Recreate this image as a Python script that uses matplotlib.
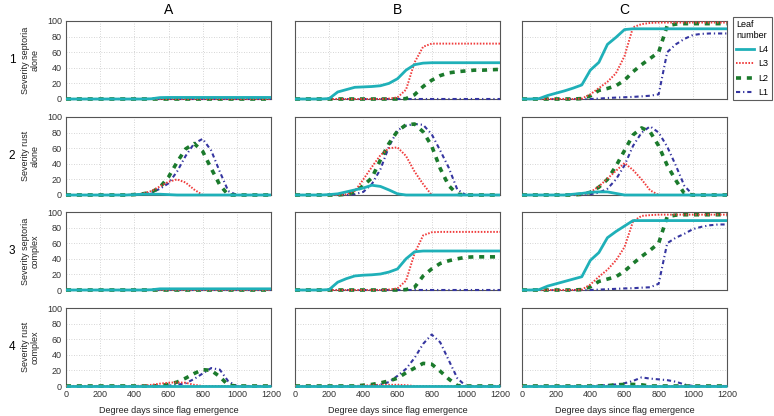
import numpy as np
import matplotlib
matplotlib.use("Agg")
import matplotlib.pyplot as plt
from matplotlib.lines import Line2D

# degree days since flag emergence (common grid, every 50)
dd = list(range(0, 1250, 50))

# ---- row 1: severity septoria alone ----
sep_alone_A_L4 = [0, 0, 0, 0, 0, 0, 0, 0, 0, 0, 0.3, 1.8, 2, 2, 2, 2, 2, 2, 2, 2, 2, 2, 2, 2, 2]
sep_alone_A_L3 = [0] * 25
sep_alone_A_L2 = [0] * 25
sep_alone_A_L1 = [0] * 25

sep_alone_B_L4 = [0, 0, 0, 0, 0.5, 9, 12, 15, 15.5, 16, 17, 20, 26, 37, 44, 46, 46.5, 46.5, 46.5, 46.5, 46.5, 46.5, 46.5, 46.5, 46.5]
sep_alone_B_L3 = [0, 0, 0, 0, 0, 0, 0, 0, 0, 0, 0, 0.5, 2, 12, 47, 67, 71, 71, 71, 71, 71, 71, 71, 71, 71]
sep_alone_B_L2 = [0, 0, 0, 0, 0, 0, 0, 0, 0, 0, 0, 0, 0, 0.5, 5.5, 16, 24, 30, 33.5, 35, 36, 37, 37, 37.5, 38]
sep_alone_B_L1 = [0.5] * 25

sep_alone_C_L4 = [0, 0, 0.5, 4.5, 7.5, 10.5, 14, 18, 37, 47, 70, 79, 89, 90, 90, 90, 90, 90, 90, 90, 90, 90, 90, 90, 90]
sep_alone_C_L3 = [0, 0, 0, 0, 0, 0, 0, 0.5, 6, 14, 22, 33, 55, 92, 96, 97.5, 98, 98, 98, 98, 98, 98, 98, 98, 98]
sep_alone_C_L2 = [0, 0, 0, 0, 0, 0, 0, 0.5, 4, 11, 13.5, 17, 24, 35, 44, 52, 60, 94, 96, 96.6, 96.6, 96.6, 96.6, 96.6, 96.6]
sep_alone_C_L1 = [0, 0, 0, 0, 0, 0, 0, 0, 0, 0.5, 1.3, 1.8, 2.2, 2.7, 3.4, 4.2, 6, 60, 70, 77, 82, 83.5, 84, 84, 84]

# ---- row 2: severity rust alone ----
rust_alone_A_L4 = [0, 0, 0, 0, 0, 0, 0, 0, 0.5, 1, 1, 1, 0.5, 0, 0, 0, 0, 0, 0, 0, 0, 0, 0, 0, 0]
rust_alone_A_L3 = [0, 0, 0, 0, 0, 0, 0, 0, 0.5, 2, 5, 11, 17, 20, 16, 7, 0, 0, 0, 0, 0, 0, 0, 0, 0]
rust_alone_A_L2 = [0, 0, 0, 0, 0, 0, 0, 0, 0.5, 1.5, 3.5, 10, 23, 42, 59, 66, 56, 34, 13, 0, 0, 0, 0, 0, 0]
rust_alone_A_L1 = [0, 0, 0, 0, 0, 0, 0, 0, 0, 1, 3, 8, 15, 30, 50, 66, 72, 57, 30, 5, 0, 0, 0, 0, 0]

rust_alone_B_L4 = [0, 0, 0, 0, 0.5, 1.5, 4, 6.5, 9, 12.5, 11, 6.5, 1.5, 0, 0, 0, 0, 0, 0, 0, 0, 0, 0, 0, 0]
rust_alone_B_L3 = [0, 0, 0, 0, 0, 0, 1, 5, 20, 36, 51, 60, 61, 50, 30, 14, 0, 0, 0, 0, 0, 0, 0, 0, 0]
rust_alone_B_L2 = [0, 0, 0, 0, 0, 0, 1, 4, 12, 22, 45, 66, 82, 90, 91, 81, 63, 34, 12, 1, 0, 0, 0, 0, 0]
rust_alone_B_L1 = [0, 0, 0, 0, 0, 0, 0, 1, 4, 14, 33, 62, 83, 89, 91, 90, 78, 57, 35, 7, 0, 0, 0, 0, 0]

rust_alone_C_L4 = [0, 0, 0, 0, 0, 0, 1, 2, 3.5, 4, 4, 2, 0, 0, 0, 0, 0, 0, 0, 0, 0, 0, 0, 0, 0]
rust_alone_C_L3 = [0, 0, 0, 0, 0, 0, 0, 1, 3.5, 11, 21, 31, 41, 32, 20, 6, 0, 0, 0, 0, 0, 0, 0, 0, 0]
rust_alone_C_L2 = [0, 0, 0, 0, 0, 0, 0, 1, 3.5, 10, 20, 37, 57, 77, 86, 81, 63, 38, 19, 2, 0, 0, 0, 0, 0]
rust_alone_C_L1 = [0, 0, 0, 0, 0, 0, 0, 0, 1, 3, 8, 20, 38, 63, 80, 88, 80, 62, 38, 12, 0, 0, 0, 0, 0]

# ---- row 3: severity septoria complex ----
sep_cplx_A_L4 = [0, 0, 0, 0, 0, 0, 0, 0, 0, 0, 0.3, 1.5, 1.5, 1.5, 1.5, 1.5, 1.5, 1.5, 1.5, 1.5, 1.5, 1.5, 1.5, 1.5, 1.5]
sep_cplx_A_L3 = [0] * 25
sep_cplx_A_L2 = [0] * 25
sep_cplx_A_L1 = [0] * 25

sep_cplx_B_L4 = [0, 0, 0, 0, 0.5, 10, 14.5, 18, 19, 19.5, 20.5, 23, 27, 40, 49, 50, 50, 50, 50, 50, 50, 50, 50, 50, 50]
sep_cplx_B_L3 = [0, 0, 0, 0, 0, 0, 0, 0, 0, 0, 0, 0.5, 2, 12, 47, 70, 74, 74.5, 74.5, 74.5, 74.5, 74.5, 74.5, 74.5, 74.5]
sep_cplx_B_L2 = [0, 0, 0, 0, 0, 0, 0, 0, 0, 0, 0, 0, 0, 0.5, 3.5, 18, 27, 34, 37.5, 40, 42, 42.5, 42.5, 42.5, 42.5]
sep_cplx_B_L1 = [0.5] * 25

sep_cplx_C_L4 = [0, 0, 0.5, 5, 8, 11, 14, 17, 38, 48, 67, 75, 82, 89, 89, 89, 89, 89, 89, 89, 89, 89, 89, 89, 89]
sep_cplx_C_L3 = [0, 0, 0, 0, 0, 0, 0, 0.5, 7, 17, 26, 38, 55, 88, 95, 96, 96.6, 96.6, 96.6, 96.6, 96.6, 96.6, 96.6, 96.6, 96.6]
sep_cplx_C_L2 = [0, 0, 0, 0, 0, 0, 0, 0.5, 4, 11, 14, 17, 24, 34, 43, 51, 60, 94, 96, 96.5, 96.5, 96.5, 96.5, 96.5, 96.5]
sep_cplx_C_L1 = [0, 0, 0, 0, 0, 0, 0, 0, 0, 0.5, 1, 1.5, 2, 2.3, 3, 3.5, 8, 60, 67, 72, 78, 81, 83, 84, 84]

# ---- row 4: severity rust complex ----
rust_cplx_A_L4 = [0] * 25
rust_cplx_A_L3 = [0, 0, 0, 0, 0, 0, 0, 0, 0, 0.5, 1.5, 3, 4.2, 4.6, 4.2, 1.5, 0, 0, 0, 0, 0, 0, 0, 0, 0]
rust_cplx_A_L2 = [0, 0, 0, 0, 0, 0, 0, 0, 0, 0, 0, 0.5, 2, 5, 10, 16, 21, 20, 12, 1, 0, 0, 0, 0, 0]
rust_cplx_A_L1 = [0, 0, 0, 0, 0, 0, 0, 0, 0, 0, 0, 0, 0.5, 1.5, 3.5, 9, 16, 23, 21, 6, 0, 0, 0, 0, 0]

rust_cplx_B_L4 = [0] * 25
rust_cplx_B_L3 = [0, 0, 0, 0, 0, 0, 0, 0, 0.5, 1, 1, 1.5, 1.5, 1, 0, 0, 0, 0, 0, 0, 0, 0, 0, 0, 0]
rust_cplx_B_L2 = [0, 0, 0, 0, 0, 0, 0, 0, 1, 2, 4, 6.5, 10, 17, 23, 29, 28, 19, 9, 0.5, 0, 0, 0, 0, 0]
rust_cplx_B_L1 = [0, 0, 0, 0, 0, 0, 0, 0, 0, 0, 2, 5, 13, 22, 36, 54, 66, 56, 33, 10, 0, 0, 0, 0, 0]

rust_cplx_C_L4 = [0] * 25
rust_cplx_C_L3 = [0] * 25
rust_cplx_C_L2 = [0, 0, 0, 0, 0, 0, 0, 0, 0, 0, 0.5, 1.5, 2, 2, 1.5, 0, 0, 0, 0, 0, 0, 0, 0, 0, 0]
rust_cplx_C_L1 = [0, 0, 0, 0, 0, 0, 0, 0, 0, 0.5, 1.3, 2, 3.5, 6.5, 11, 9.5, 8.5, 7.5, 5.5, 2, 0, 0, 0, 0, 0]

col_titles = ["A", "B", "C"]
row_nums = ["1", "2", "3", "4"]
row_labels = ["Severity septoria\nalone", "Severity rust\nalone",
              "Severity septoria\ncomplex", "Severity rust\ncomplex"]
leaf_names = ["L4", "L3", "L2", "L1"]

panels = [
    [[sep_alone_A_L4, sep_alone_A_L3, sep_alone_A_L2, sep_alone_A_L1],
     [sep_alone_B_L4, sep_alone_B_L3, sep_alone_B_L2, sep_alone_B_L1],
     [sep_alone_C_L4, sep_alone_C_L3, sep_alone_C_L2, sep_alone_C_L1]],
    [[rust_alone_A_L4, rust_alone_A_L3, rust_alone_A_L2, rust_alone_A_L1],
     [rust_alone_B_L4, rust_alone_B_L3, rust_alone_B_L2, rust_alone_B_L1],
     [rust_alone_C_L4, rust_alone_C_L3, rust_alone_C_L2, rust_alone_C_L1]],
    [[sep_cplx_A_L4, sep_cplx_A_L3, sep_cplx_A_L2, sep_cplx_A_L1],
     [sep_cplx_B_L4, sep_cplx_B_L3, sep_cplx_B_L2, sep_cplx_B_L1],
     [sep_cplx_C_L4, sep_cplx_C_L3, sep_cplx_C_L2, sep_cplx_C_L1]],
    [[rust_cplx_A_L4, rust_cplx_A_L3, rust_cplx_A_L2, rust_cplx_A_L1],
     [rust_cplx_B_L4, rust_cplx_B_L3, rust_cplx_B_L2, rust_cplx_B_L1],
     [rust_cplx_C_L4, rust_cplx_C_L3, rust_cplx_C_L2, rust_cplx_C_L1]],
]

# line styles per leaf
styles = {
    "L4": dict(color="#1fb0b8", lw=2.0, ls="-"),
    "L3": dict(color="#f03c3c", lw=1.4, ls=(0, (0.8, 0.8))),
    "L2": dict(color="#1b7a2c", lw=2.6, ls=(0, (1.4, 1.6))),
    "L1": dict(color="#3535a0", lw=1.5, ls=(0, (2.0, 1.4, 0.6, 1.4))),
}

plt.rcParams["font.family"] = ["Liberation Sans", "DejaVu Sans"]
fig = plt.figure(figsize=(7.74, 4.16), dpi=100)

lefts = [66 / 774, 295 / 774, 522 / 774]
bottoms = [1 - 99 / 416, 1 - 195 / 416, 1 - 290 / 416, 1 - 386 / 416]
w = 205 / 774
h = 78 / 416

for r in range(4):
    for c in range(3):
        ax = fig.add_axes([lefts[c], bottoms[r], w, h])
        # draw L1 first so L4 sits on top
        for k in [3, 2, 1, 0]:
            name = leaf_names[k]
            ax.plot(dd, panels[r][c][k], clip_on=False, zorder=3 + (3 - k) * 0.1,
                    solid_capstyle="butt", dash_capstyle="butt", **styles[name])
        ax.set_xlim(0, 1200)
        ax.set_ylim(0, 100)
        ax.set_xticks(range(0, 1201, 200))
        ax.set_yticks(range(0, 101, 20))
        ax.grid(True, ls=(0, (1, 2)), color="#c8c8c8", lw=0.6)
        ax.set_axisbelow(True)
        ax.tick_params(length=0, labelsize=6.5, colors="#333333", pad=3)
        for s in ax.spines.values():
            s.set_color("#555555")
            s.set_linewidth(0.8)
        if c != 0:
            ax.set_yticklabels([])
        else:
            ax.set_ylabel(row_labels[r], fontsize=6.5, color="#222222", labelpad=5,
                          linespacing=1.15)
        if r != 3:
            ax.set_xticklabels([])
        else:
            ax.set_xlabel("Degree days since flag emergence", fontsize=6.5,
                          color="#222222", labelpad=5)
        if r == 0:
            ax.set_title(col_titles[c], fontsize=10, pad=5)

for r in range(4):
    fig.text(12 / 774, bottoms[r] + h / 2, row_nums[r], fontsize=8.5,
             ha="center", va="center")

handles = [Line2D([], [], **styles[n]) for n in leaf_names]
leg = fig.legend(handles, leaf_names, title="Leaf\nnumber", loc="upper left",
                 bbox_to_anchor=(733 / 774, 1 - 17 / 416), fontsize=6.5,
                 title_fontsize=6.5, frameon=True, fancybox=False,
                 handlelength=2.0, handletextpad=0.5, borderpad=0.35,
                 borderaxespad=0, labelspacing=0.6, alignment="left")
leg.get_frame().set_edgecolor("#333333")
leg.get_frame().set_linewidth(0.8)

fig.savefig("out.png", dpi=100)
